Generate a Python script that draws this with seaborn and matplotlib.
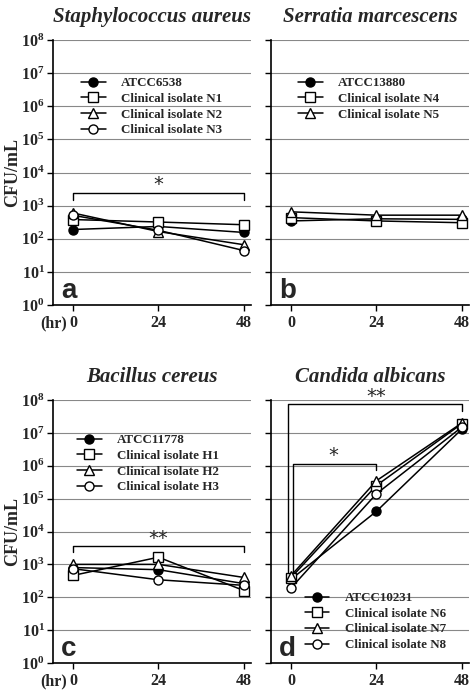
import numpy as np
import pandas as pd
import matplotlib
matplotlib.use("Agg")
import matplotlib.pyplot as plt
import seaborn as sns

# ------------------------------
# Data (CFU/mL)
# ------------------------------
hours = [0, 24, 48]

sa_names = ["ATCC6538", "Clinical isolate N1", "Clinical isolate N2", "Clinical isolate N3"]
sa_atcc = [190, 235, 155]
sa_n1 = [380, 320, 265]
sa_n2 = [600, 165, 66]
sa_n3 = [510, 180, 44]

sm_names = ["ATCC13880", "Clinical isolate N4", "Clinical isolate N5"]
sm_atcc = [345, 400, 385]
sm_n4 = [435, 345, 305]
sm_n5 = [650, 515, 515]

bc_names = ["ATCC11778", "Clinical isolate H1", "Clinical isolate H2", "Clinical isolate H3"]
bc_atcc = [800, 690, 260]
bc_h1 = [460, 1650, 160]
bc_h2 = [1000, 1000, 400]
bc_h3 = [740, 340, 230]

ca_names = ["ATCC10231", "Clinical isolate N6", "Clinical isolate N7", "Clinical isolate N8"]
ca_atcc = [350, 41000, 13e6]
ca_n6 = [390, 250000, 19e6]
ca_n7 = [450, 350000, 20e6]
ca_n8 = [190, 140000, 15e6]

# marker style per series position: (marker, face colour)
styles = [("o", "black"), ("s", "white"), ("^", "white"), ("o", "white")]

# ------------------------------
# Style
# ------------------------------
sns.set_theme(style="ticks")
plt.rcParams["font.family"] = ["Liberation Serif", "DejaVu Serif"]
plt.rcParams["font.weight"] = "bold"
plt.rcParams["mathtext.fontset"] = "custom"
plt.rcParams["mathtext.rm"] = "Liberation Serif:bold"
plt.rcParams["mathtext.it"] = "Liberation Serif:bold"
plt.rcParams["mathtext.bf"] = "Liberation Serif:bold"
plt.rcParams["mathtext.default"] = "rm"

fig = plt.figure(figsize=(4.76, 6.94), dpi=100)
W, H = 476, 694


def add_ax(l, t, r, b):
    return fig.add_axes([l / W, 1 - b / H, (r - l) / W, (b - t) / H])


ax_a = add_ax(53, 40, 251, 305)
ax_b = add_ax(271, 40, 469, 305)
ax_c = add_ax(53, 400, 251, 663)
ax_d = add_ax(271, 400, 469, 663)


def draw_panel(ax, names, series, title, letter, legend_anchor, left_col):
    rows = []
    for name, vals in zip(names, series):
        for h, v in zip(hours, vals):
            rows.append({"hr": h, "cfu": v, "strain": name})
    df = pd.DataFrame(rows)
    for i, name in enumerate(names):
        mk, fc = styles[i]
        sns.lineplot(data=df[df["strain"] == name], x="hr", y="cfu", ax=ax,
                     color="black", marker=mk, markerfacecolor=fc,
                     markeredgecolor="black", markeredgewidth=1.0,
                     markersize=6.5, linewidth=1.1, label=name, zorder=3 + i)
    ax.set_yscale("log")
    ax.set_ylim(1, 1e8)
    ax.set_xlim(-5.6, 50)
    ax.set_yticks([10.0 ** k for k in range(9)])
    ax.minorticks_off()
    ax.yaxis.grid(True, color="#888888", linewidth=0.8)
    ax.set_axisbelow(True)
    if left_col:
        ax.set_yticklabels([f"$10^{{{k}}}$" for k in range(9)], fontsize=11.5)
        ax.set_ylabel("CFU/mL", fontsize=13, fontweight="bold")
        ax.yaxis.set_label_coords(-0.16, 0.5)
        ax.annotate("(hr)", xy=(0, 0), xycoords=("data", "axes fraction"),
                    xytext=(-4.5, -7.5), textcoords="offset points",
                    ha="right", va="top", fontsize=11.5, fontweight="bold")
    else:
        ax.set_yticklabels([])
        ax.set_ylabel("")
    ax.set_xticks(hours)
    ax.set_xticklabels([str(h) for h in hours], fontsize=11.5, fontweight="bold")
    ax.set_xlabel("")
    ax.tick_params(axis="both", direction="out", length=4, width=1, color="black")
    ax.tick_params(axis="x", pad=3.5)
    ax.tick_params(axis="y", pad=2)
    sns.despine(ax=ax)
    for s in ["left", "bottom"]:
        ax.spines[s].set_color("black")
        ax.spines[s].set_linewidth(1.2)
    ax.set_title(title, fontsize=15, fontweight="bold", fontstyle="italic", pad=13)
    ax.text(0.04, 0.005, letter, transform=ax.transAxes, fontsize=20,
            fontweight="bold", family="Liberation Sans", va="bottom", ha="left")
    ax.legend(loc="upper left", bbox_to_anchor=legend_anchor, frameon=False,
              fontsize=9.4, handlelength=1.9, handletextpad=1.2,
              labelspacing=0.27, borderaxespad=0, borderpad=0)


def bracket(ax, x0, x1, y, y0, y1, label, lx, ly):
    ax.plot([x0, x0, x1, x1], [y0, y, y, y1], color="black", linewidth=1.0, zorder=2)
    ax.text(lx, ly, label, ha="center", va="center", fontsize=14,
            fontweight="normal", family="DejaVu Sans")


draw_panel(ax_a, sa_names, [sa_atcc, sa_n1, sa_n2, sa_n3],
           "Staphylococcus aureus", "a", (0.14, 0.86), True)
draw_panel(ax_b, sm_names, [sm_atcc, sm_n4, sm_n5],
           "Serratia marcescens", "b", (0.135, 0.86), False)
draw_panel(ax_c, bc_names, [bc_atcc, bc_h1, bc_h2, bc_h3],
           "Bacillus cereus", "c", (0.12, 0.87), True)
draw_panel(ax_d, ca_names, [ca_atcc, ca_n6, ca_n7, ca_n8],
           "Candida albicans", "d", (0.17, 0.27), False)

bracket(ax_a, 0, 48, 2450, 1450, 1450, "*", 24, 4400)
bracket(ax_c, 0, 48, 3650, 2400, 2400, "**", 24, 6300)
bracket(ax_d, -0.75, 48, 7.4e7, 590, 4.7e7, "**", 24, 1.25e8)
bracket(ax_d, 0.65, 24, 1.12e6, 590, 7.6e5, "*", 12, 2.0e6)

fig.savefig("out.png", dpi=100)
